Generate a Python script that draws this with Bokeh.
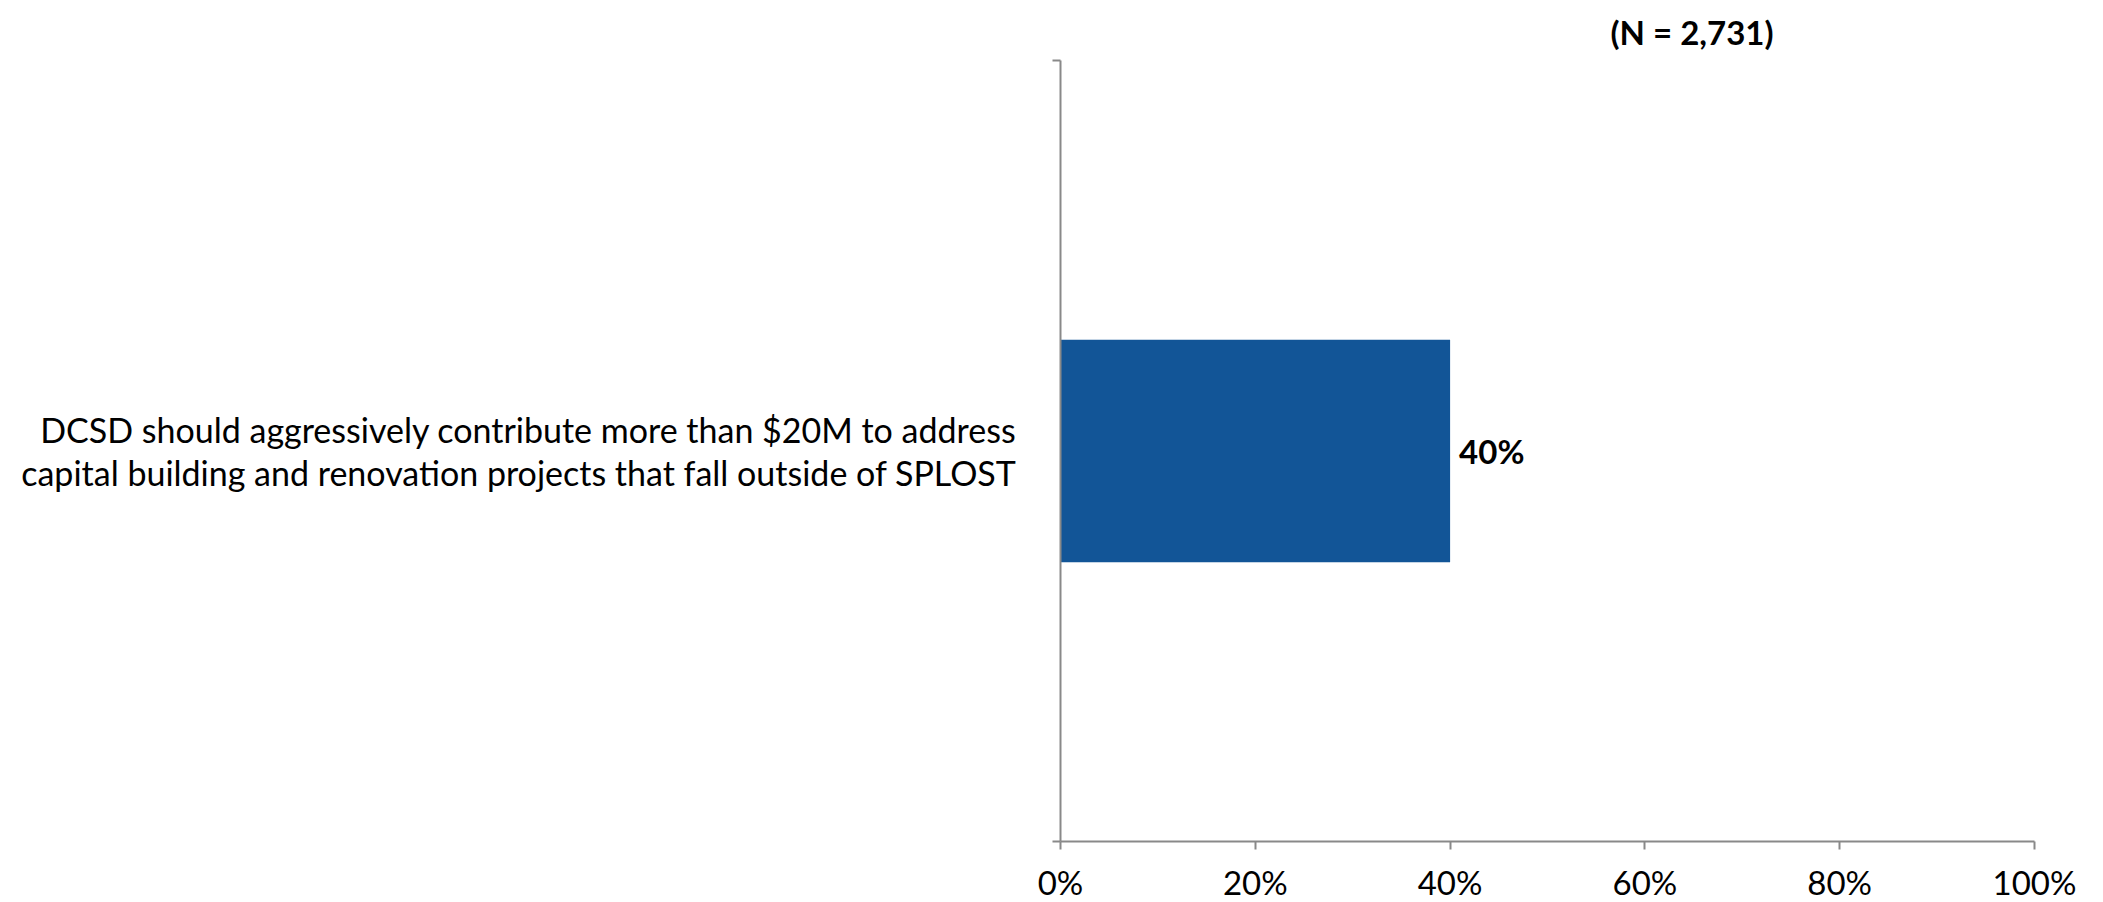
from bokeh.plotting import figure
from bokeh.models import (Range1d, FixedTicker, NumeralTickFormatter, Title,
                          ColumnDataSource)
from bokeh.core.properties import value
from bokeh.embed import file_html
from bokeh.resources import INLINE

# ---- data ----
categories = ["DCSD should aggressively contribute more than $20M to address\ncapital building and renovation projects that fall outside of SPLOST"]
positions = [0.5]
shares = [0.40]
share_labels = ["40%"]
x_ticks = [0, 0.2, 0.4, 0.6, 0.8, 1.0]
subtitle = "(N = 2,731)"

FONT = "Lato"
AXIS_COLOR = "#898989"
BAR_COLOR = "#125597"

p = figure(frame_width=974, frame_height=781,
           min_border_left=1060, min_border_top=60, min_border_right=54,
           min_border_bottom=55,
           x_range=Range1d(0, 1), y_range=Range1d(0, 1),
           output_backend="svg", toolbar_location=None)
p.outline_line_color = None
p.xgrid.visible = False
p.ygrid.visible = False
p.background_fill_color = "white"
p.border_fill_color = "white"

src = ColumnDataSource(dict(y=positions, right=shares, lab=share_labels))
p.hbar(y="y", left=0, right="right", height=0.285, source=src,
       fill_color=BAR_COLOR, line_color=None)
p.text(x="right", y="y", text="lab", source=src, x_offset=9,
       text_font=value(FONT), text_font_style="bold", text_font_size="33px",
       text_baseline="middle", text_align="left", text_color="black")

# x axis
xa = p.xaxis[0]
xa.ticker = FixedTicker(ticks=x_ticks)
xa.formatter = NumeralTickFormatter(format="0%")
xa.axis_line_color = AXIS_COLOR
xa.axis_line_width = 2
xa.major_tick_line_color = AXIS_COLOR
xa.major_tick_line_width = 2
xa.major_tick_out = 8
xa.major_tick_in = 0
xa.minor_tick_line_color = None
xa.major_label_text_font = FONT
xa.major_label_text_font_size = "33px"
xa.major_label_text_color = "black"
xa.major_label_standoff = 12

# y axis: line, boundary ticks, category label
ya = p.yaxis[0]
ya.ticker = FixedTicker(ticks=positions, minor_ticks=[0, 1])
ya.major_label_overrides = {positions[0]: categories[0]}
ya.axis_line_color = AXIS_COLOR
ya.axis_line_width = 2
ya.minor_tick_line_color = AXIS_COLOR
ya.minor_tick_line_width = 2
ya.minor_tick_out = 8
ya.minor_tick_in = 0
ya.major_tick_line_color = None
ya.major_tick_out = 0
ya.major_tick_in = 0
ya.major_label_standoff = 36
ya.major_label_text_font = FONT
ya.major_label_text_font_size = "34px"
ya.major_label_text_color = "black"
ya.major_label_text_line_height = 1.05

# subtitle
p.add_layout(Title(text=subtitle, align="right", offset=261, standoff=18,
                   text_font=FONT, text_font_style="bold", text_font_size="33px",
                   text_color="black"), "above")

open("out.html", "w").write(file_html(p, INLINE))
